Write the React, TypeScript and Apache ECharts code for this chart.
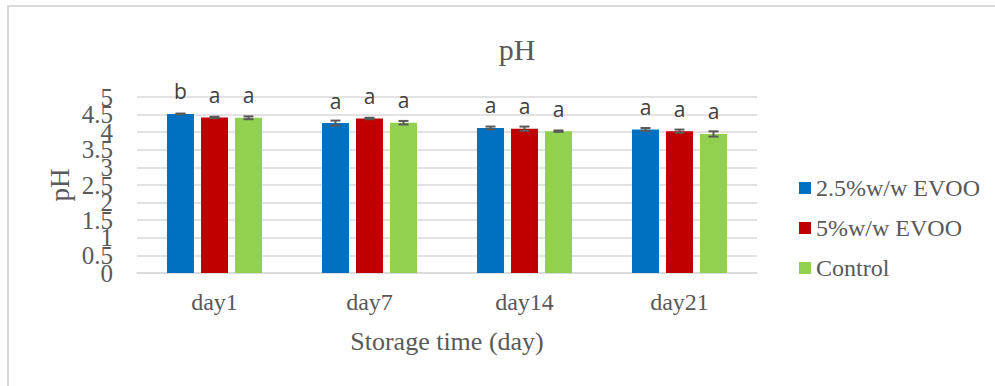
import React, { useEffect, useRef } from "react";
import * as echarts from "echarts";

const categories = ["day1", "day7", "day14", "day21"];
const seriesNames = ["2.5%w/w EVOO", "5%w/w EVOO", "Control"];
const evoo25 = [4.52, 4.26, 4.12, 4.08];
const evoo5 = [4.42, 4.39, 4.1, 4.03];
const control = [4.41, 4.27, 4.03, 3.95];
const err25 = [0.01, 0.07, 0.04, 0.04];
const err5 = [0.02, 0.02, 0.06, 0.045];
const errControl = [0.04, 0.05, 0.02, 0.075];
const letters25 = ["b", "a", "a", "a"];
const letters5 = ["a", "a", "a", "a"];
const lettersControl = ["a", "a", "a", "a"];
const yTicks = [0, 0.5, 1, 1.5, 2, 2.5, 3, 3.5, 4, 4.5, 5];

const colors = ["#0070C0", "#C00000", "#92D050"];
const SERIF = "Liberation Serif";
const SANS = "Open Sans";
const GRAY = "#595959";
const BAR_W = 27;
const STEP = 34;

export default function App() {
  const ref = useRef<HTMLDivElement>(null);
  useEffect(() => {
    document.body.style.margin = "0";
    const chart = echarts.init(ref.current!, null, { renderer: "svg" });
    const values = [evoo25, evoo5, control];
    const errs = [err25, err5, errControl];
    const letters = [letters25, letters5, lettersControl];

    const barSeries = values.map((vals, si) => ({
      type: "bar",
      name: seriesNames[si],
      data: vals,
      barWidth: BAR_W,
      barGap: "26%",
      itemStyle: { color: colors[si] },
      label: {
        show: true,
        position: "top",
        distance: 12,
        formatter: (p: any) => `{l|${letters[si][p.dataIndex]}}`,
        rich: { l: { fontFamily: SANS, fontSize: 21, color: "#404040" } },
      },
      z: 2,
    }));

    const errSeries = values.map((vals, si) => ({
      type: "custom",
      name: seriesNames[si] + " err",
      data: vals.map((v, i) => [i, v - errs[si][i], v + errs[si][i]]),
      encode: { x: 0, y: [1, 2] },
      z: 5,
      silent: true,
      renderItem: (params: any, api: any) => {
        const idx = api.value(0);
        const lo = api.coord([idx, api.value(1)]);
        const hi = api.coord([idx, api.value(2)]);
        const x = lo[0] + (si - 1) * STEP;
        const hw = 5;
        const style = { stroke: GRAY, lineWidth: 2 };
        return {
          type: "group",
          children: [
            { type: "line", shape: { x1: x, y1: lo[1], x2: x, y2: hi[1] }, style },
            { type: "line", shape: { x1: x - hw, y1: lo[1], x2: x + hw, y2: lo[1] }, style },
            { type: "line", shape: { x1: x - hw, y1: hi[1], x2: x + hw, y2: hi[1] }, style },
          ],
        };
      },
    }));

    const yBase = {
      type: "value",
      min: 0,
      max: 5,
      interval: 0.5,
      position: "left",
      axisLine: { show: false },
      axisTick: { show: false },
    };
    const yLabel = {
      fontFamily: SERIF,
      fontSize: 25,
      color: GRAY,
      margin: 24,
    };

    chart.setOption({
      animation: false,
      backgroundColor: "#ffffff",
      textStyle: { fontFamily: SERIF },
      title: {
        text: "pH",
        left: 512,
        textAlign: "center",
        top: 29,
        textStyle: { fontFamily: SERIF, fontSize: 30, fontWeight: "normal", color: GRAY },
      },
      legend: {
        orient: "vertical",
        left: 799,
        top: 176,
        padding: 0,
        itemWidth: 12,
        itemHeight: 12,
        itemGap: 16,
        icon: "rect",
        data: seriesNames,
        textStyle: { fontFamily: SERIF, fontSize: 24, color: GRAY },
      },
      grid: { left: 137, right: 238, top: 97, bottom: 113, containLabel: false },
      xAxis: {
        type: "category",
        data: categories,
        axisLine: { lineStyle: { color: "#d9d9d9", width: 1.5 } },
        axisTick: { show: false },
        axisLabel: { fontFamily: SERIF, fontSize: 24, color: GRAY, margin: 17 },
        name: "Storage time (day)",
        nameLocation: "middle",
        nameGap: 55,
        nameTextStyle: { fontFamily: SERIF, fontSize: 26, color: GRAY },
      },
      yAxis: [
        {
          ...yBase,
          splitLine: { lineStyle: { color: "#d9d9d9", width: 1.5 } },
          axisLabel: {
            ...yLabel,
            formatter: (v: number) => (yTicks.includes(v) && Number.isInteger(v) ? String(v) : ""),
          },
          name: "pH",
          nameLocation: "middle",
          nameGap: 64,
          nameTextStyle: { fontFamily: SERIF, fontSize: 27, color: GRAY },
        },
        {
          ...yBase,
          splitLine: { show: false },
          axisLabel: {
            ...yLabel,
            formatter: (v: number) => (yTicks.includes(v) && !Number.isInteger(v) ? String(v) : ""),
          },
        },
      ],
      graphic: [
        {
          type: "rect",
          shape: { x: 8, y: 6, width: 1000, height: 400 },
          style: { fill: "none", stroke: "#d9d9d9", lineWidth: 2 },
          silent: true,
        },
      ],
      series: [...barSeries, ...errSeries],
    });
    return () => chart.dispose();
  }, []);
  return <div ref={ref} style={{ width: 995, height: 386 }} />;
}
